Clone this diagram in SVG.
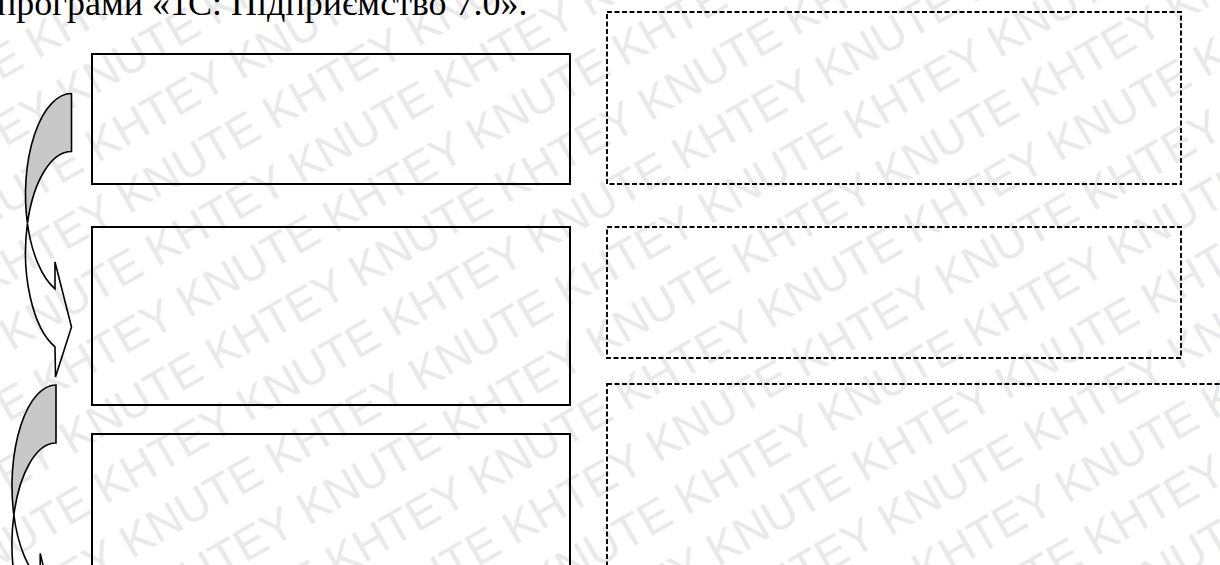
<svg xmlns="http://www.w3.org/2000/svg" width="1220" height="565" viewBox="0 0 1220 565">
<style>
.wm{font-family:"Liberation Sans",Arial,sans-serif;font-size:46px;fill:#e9e9e9;}
.solid{fill:none;stroke:#000;stroke-width:2;}
.dash{fill:none;stroke:#000;stroke-width:1.9;stroke-dasharray:5 2.5;}
.arrW{fill:none;stroke:#000;stroke-width:1.6;stroke-linejoin:miter;}
.arrG{fill:#c8c8c8;stroke:#000;stroke-width:1.6;}
.cap{font-family:"Liberation Serif","Times New Roman",serif;font-size:36px;fill:#000;}
</style>
<rect width="1220" height="565" fill="#fff"/>
<g id="watermark" transform="rotate(-30)">
<text class="wm" x="-330" y="10">KNUTE KHTEY KNUTE KHTEY KNUTE KHTEY KNUTE KHTEY KNUTE KHTEY</text>
<text class="wm" x="-500" y="70">KNUTE KHTEY KNUTE KHTEY KNUTE KHTEY KNUTE KHTEY KNUTE KHTEY KNUTE KHTEY</text>
<text class="wm" x="-330" y="130">KNUTE KHTEY KNUTE KHTEY KNUTE KHTEY KNUTE KHTEY KNUTE KHTEY</text>
<text class="wm" x="-500" y="190">KNUTE KHTEY KNUTE KHTEY KNUTE KHTEY KNUTE KHTEY KNUTE KHTEY KNUTE KHTEY</text>
<text class="wm" x="-330" y="250">KNUTE KHTEY KNUTE KHTEY KNUTE KHTEY KNUTE KHTEY KNUTE KHTEY</text>
<text class="wm" x="-500" y="310">KNUTE KHTEY KNUTE KHTEY KNUTE KHTEY KNUTE KHTEY KNUTE KHTEY KNUTE KHTEY</text>
<text class="wm" x="-330" y="370">KNUTE KHTEY KNUTE KHTEY KNUTE KHTEY KNUTE KHTEY KNUTE KHTEY</text>
<text class="wm" x="-500" y="430">KNUTE KHTEY KNUTE KHTEY KNUTE KHTEY KNUTE KHTEY KNUTE KHTEY KNUTE KHTEY</text>
<text class="wm" x="-330" y="490">KNUTE KHTEY KNUTE KHTEY KNUTE KHTEY KNUTE KHTEY KNUTE KHTEY</text>
<text class="wm" x="-500" y="550">KNUTE KHTEY KNUTE KHTEY KNUTE KHTEY KNUTE KHTEY KNUTE KHTEY KNUTE KHTEY</text>
<text class="wm" x="-330" y="610">KNUTE KHTEY KNUTE KHTEY KNUTE KHTEY KNUTE KHTEY KNUTE KHTEY</text>
<text class="wm" x="-500" y="670">KNUTE KHTEY KNUTE KHTEY KNUTE KHTEY KNUTE KHTEY KNUTE KHTEY KNUTE KHTEY</text>
<text class="wm" x="-330" y="730">KNUTE KHTEY KNUTE KHTEY KNUTE KHTEY KNUTE KHTEY KNUTE KHTEY</text>
<text class="wm" x="-500" y="790">KNUTE KHTEY KNUTE KHTEY KNUTE KHTEY KNUTE KHTEY KNUTE KHTEY KNUTE KHTEY</text>
<text class="wm" x="-330" y="850">KNUTE KHTEY KNUTE KHTEY KNUTE KHTEY KNUTE KHTEY KNUTE KHTEY</text>
<text class="wm" x="-500" y="910">KNUTE KHTEY KNUTE KHTEY KNUTE KHTEY KNUTE KHTEY KNUTE KHTEY KNUTE KHTEY</text>
<text class="wm" x="-330" y="970">KNUTE KHTEY KNUTE KHTEY KNUTE KHTEY KNUTE KHTEY KNUTE KHTEY</text>
<text class="wm" x="-500" y="1030">KNUTE KHTEY KNUTE KHTEY KNUTE KHTEY KNUTE KHTEY KNUTE KHTEY KNUTE KHTEY</text>
<text class="wm" x="-330" y="1090">KNUTE KHTEY KNUTE KHTEY KNUTE KHTEY KNUTE KHTEY KNUTE KHTEY</text>
<text class="wm" x="-500" y="1150">KNUTE KHTEY KNUTE KHTEY KNUTE KHTEY KNUTE KHTEY KNUTE KHTEY KNUTE KHTEY</text>
</g>
<text id="caption" class="cap" x="-3" y="15">програми «1С: Підприємство 7.0».</text>
<g id="box-left-1"><rect class="solid" x="92" y="54" width="478" height="130"/></g>
<g id="box-left-2"><rect class="solid" x="92" y="227" width="478" height="178"/></g>
<g id="box-left-3"><rect class="solid" x="92" y="434" width="478" height="160"/></g>
<g id="box-right-1"><rect class="dash" x="607" y="12" width="574" height="172"/></g>
<g id="box-right-2"><rect class="dash" x="607" y="227" width="574" height="131"/></g>
<g id="box-right-3"><rect class="dash" x="607" y="384" width="640" height="220"/></g>
<g id="connectors">
<g id="arrow-1">
<path class="arrW" d="M27.44,223.5 A46,101 0 0 0 55,346.8 L55.5,377 L71.5,327 L55,262 L55,288.8 A46,101 0 0 1 27.44,223.5 Z"/>
<path class="arrG" d="M71.5,93.5 A46,101 0 0 0 27.44,223.5 A46,101 0 0 1 71.5,151.5 Z"/>
</g>
<g id="arrow-2">
<path class="arrW" d="M13.85,515 A44,101 0 0 0 40.2,638.3 L40.5,668.5 L56,618.5 L40.2,553.5 L40.2,580.3 A44,101 0 0 1 13.85,515 Z"/>
<path class="arrG" d="M56,385 A44,101 0 0 0 13.85,515 A44,101 0 0 1 56,443 Z"/>
</g>
</g>
</svg>
